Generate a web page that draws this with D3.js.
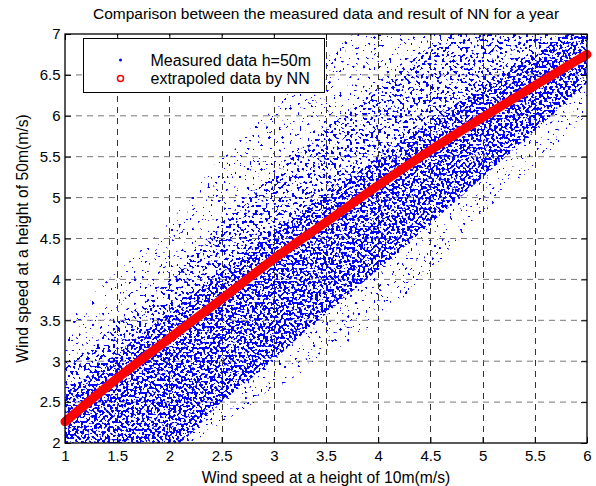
<!DOCTYPE html>
<html lang="en">
<head>
<meta charset="UTF-8">
<title>measured vs NN wind speed</title>
<script src="https://d3js.org/d3.v7.min.js"></script>
<style>
  body { margin: 0; background: #fff; }
  svg { display: block; font-family: "Liberation Sans", Arial, sans-serif; }
</style>
</head>
<body>
<script>
const width = 596, height = 486;
const margin = {top: 34, right: 9, bottom: 43, left: 65};

// x positions (wind speed at 10m) where the curves below were read
const xs = [1, 1.5, 2, 2.5, 3, 3.5, 4, 4.5, 5, 5.5, 6];
// NN extrapolation (red)
const nnFit = [2.26, 2.79, 3.28, 3.76, 4.25, 4.70, 5.15, 5.58, 5.98, 6.37, 6.75];
// measured cloud read as envelopes (sparse outliers / main cloud / dense core)
const outerLow  = [1.9, 1.9, 1.9, 2.25, 2.65, 3.05, 3.5, 4.1, 4.8, 5.4, 6.0];
const outerHigh = [3.5, 4.1, 4.7, 5.5, 6.1, 6.7, 7.2, 7.2, 7.2, 7.2, 7.2];
const cloudLow  = [1.9, 1.9, 1.95, 2.5, 3.02, 3.58, 4.12, 4.68, 5.25, 5.82, 6.4];
const cloudHigh = [2.95, 3.45, 4.0, 4.7, 5.3, 5.85, 6.35, 6.85, 7.2, 7.2, 7.2];
const coreHigh  = [2.6, 3.1, 3.6, 4.1, 4.6, 5.05, 5.5, 5.95, 6.35, 6.75, 7.15];

const xTicks = [1, 1.5, 2, 2.5, 3, 3.5, 4, 4.5, 5, 5.5, 6];
const yTicks = [2, 2.5, 3, 3.5, 4, 4.5, 5, 5.5, 6, 6.5, 7];

const svg = d3.select("body").append("svg")
    .attr("width", width)
    .attr("height", height);

const x = d3.scaleLinear().domain([1, 6]).range([margin.left, width - margin.right]);
const y = d3.scaleLinear().domain([2, 7]).range([height - margin.bottom, margin.top]);

const defs = svg.append("defs");
defs.append("clipPath").attr("id", "plotclip")
  .append("rect")
    .attr("x", margin.left).attr("y", margin.top)
    .attr("width", x(6) - x(1)).attr("height", y(2) - y(7));

// speckle texture: thresholded noise kept inside the shape it is applied to
function speckle(id, cut) {
  const s = 40;
  const f = defs.append("filter").attr("id", id)
      .attr("filterUnits", "userSpaceOnUse")
      .attr("x", 0).attr("y", 0).attr("width", width).attr("height", height)
      .attr("color-interpolation-filters", "sRGB");
  f.append("feTurbulence")
      .attr("type", "fractalNoise").attr("baseFrequency", 0.38)
      .attr("numOctaves", 1).attr("seed", 7).attr("result", "noise");
  f.append("feColorMatrix").attr("in", "noise").attr("type", "matrix")
      .attr("values", `0 0 0 0 0  0 0 0 0 0  0 0 0 0 1  ${s} 0 0 0 ${-s * cut}`)
      .attr("result", "dots");
  f.append("feComposite").attr("in", "dots").attr("in2", "SourceGraphic").attr("operator", "in");
}
speckle("sparse", 0.66);
speckle("medium", 0.57);
speckle("dense", 0.5);

// grid
const grid = svg.append("g")
    .attr("stroke-dasharray", "6,5")
    .attr("stroke-width", 1);
grid.selectAll(".gx").data(xTicks.slice(1, -1)).join("line")
    .attr("x1", d => Math.round(x(d)) + 0.5).attr("x2", d => Math.round(x(d)) + 0.5)
    .attr("y1", y(2)).attr("y2", y(7))
    .attr("stroke", "#333");
grid.selectAll(".gy").data(yTicks.slice(1, -1)).join("line")
    .attr("y1", d => y(d)).attr("y2", d => y(d))
    .attr("x1", x(1)).attr("x2", x(6))
    .attr("stroke", "#777");

// measured data cloud
const band = (lo, hi) => d3.area()
    .x((d, i) => x(xs[i]))
    .y0((d, i) => y(lo[i]))
    .y1((d, i) => y(hi[i]))
    .curve(d3.curveMonotoneX)(xs);

const cloud = svg.append("g").attr("clip-path", "url(#plotclip)");
cloud.append("path").attr("d", band(outerLow, outerHigh)).attr("fill", "#000").attr("filter", "url(#sparse)");
cloud.append("path").attr("d", band(cloudLow, cloudHigh)).attr("fill", "#000").attr("filter", "url(#medium)");
cloud.append("path").attr("d", band(cloudLow, coreHigh)).attr("fill", "#000").attr("filter", "url(#dense)");

// NN result
svg.append("path")
    .attr("d", d3.line().x((d, i) => x(xs[i])).y(d => y(d)).curve(d3.curveMonotoneX)(nnFit))
    .attr("fill", "none")
    .attr("stroke", "#ff0000")
    .attr("stroke-width", 9)
    .attr("stroke-linecap", "round");

// axes
function styleAxis(g) {
  g.select(".domain").remove();
  g.selectAll(".tick line").attr("stroke", "#000");
  g.selectAll(".tick text").attr("fill", "#000").style("font-size", "15px")
    .style("font-family", '"Liberation Sans", Arial, sans-serif');
}
svg.append("g").attr("transform", `translate(0,${y(2)})`)
  .call(d3.axisBottom(x).tickValues(xTicks).tickFormat(d3.format("~g")).tickSize(-6).tickPadding(7))
  .call(styleAxis);
svg.append("g").attr("transform", `translate(0,${y(7)})`)
  .call(d3.axisTop(x).tickValues(xTicks).tickFormat("").tickSize(-6))
  .call(styleAxis);
svg.append("g").attr("transform", `translate(${x(1)},0)`)
  .call(d3.axisLeft(y).tickValues(yTicks).tickFormat(d3.format("~g")).tickSize(-6).tickPadding(4.5))
  .call(styleAxis);
svg.append("g").attr("transform", `translate(${x(6)},0)`)
  .call(d3.axisRight(y).tickValues(yTicks).tickFormat("").tickSize(-6))
  .call(styleAxis);

svg.append("rect")
    .attr("x", x(1)).attr("y", y(7))
    .attr("width", x(6) - x(1)).attr("height", y(2) - y(7))
    .attr("fill", "none").attr("stroke", "#000").attr("stroke-width", 1.3);

// legend
const legend = svg.append("g").attr("transform", "translate(83.5,38.5)");
legend.append("rect").attr("width", 241).attr("height", 54)
    .attr("fill", "#fff").attr("stroke", "#000").attr("stroke-width", 1);
legend.append("circle").attr("cx", 37).attr("cy", 21.5).attr("r", 1.5).attr("fill", "#0000ff");
legend.append("circle").attr("cx", 37).attr("cy", 40).attr("r", 3)
    .attr("fill", "none").attr("stroke", "#ff0000").attr("stroke-width", 1.5);
legend.append("text").attr("x", 67).attr("y", 21.5).attr("dy", "0.35em")
    .style("font-size", "16px").text("Measured data h=50m");
legend.append("text").attr("x", 67).attr("y", 40).attr("dy", "0.35em")
    .style("font-size", "16px").text("extrapoled data by NN");

// titles
svg.append("text")
    .attr("x", (x(1) + x(6)) / 2).attr("y", 19)
    .attr("text-anchor", "middle").style("font-size", "15.5px")
    .text("Comparison between the measured data and result of NN for a year");
svg.append("text")
    .attr("x", (x(1) + x(6)) / 2).attr("y", 478).attr("dy", "0.35em")
    .attr("text-anchor", "middle").style("font-size", "15.7px")
    .text("Wind speed at a height of 10m(m/s)");
svg.append("text")
    .attr("transform", `translate(22,${(y(2) + y(7)) / 2}) rotate(-90)`)
    .attr("dy", "0.35em")
    .attr("text-anchor", "middle").style("font-size", "15.7px")
    .text("Wind speed at a height of 50m(m/s)");
</script>
</body>
</html>
